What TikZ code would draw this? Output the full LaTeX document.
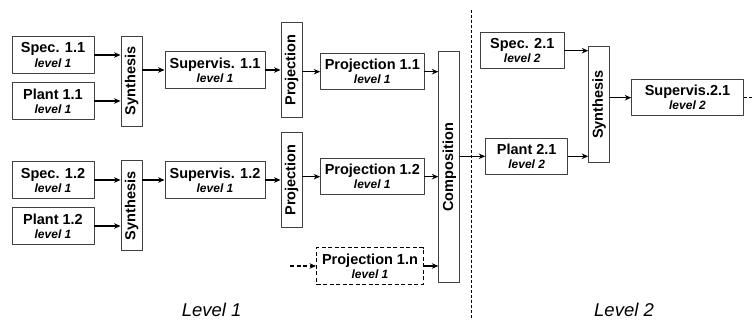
\documentclass[tikz,border=0pt]{standalone}
\usepackage{fontspec}
\setmainfont{Liberation Sans}
\usepackage{graphicx}
\usetikzlibrary{arrows.meta}
\tikzset{
  blk/.style={draw=black!75,line width=0.9pt,fill=white,align=center,inner sep=1pt,
    minimum height=36.5pt,font=\bfseries\fontsize{14.5}{14}\selectfont},
  vblk/.style={blk,minimum width=21pt},
  flow/.style={->,line width=1.3pt},
  lvltext/.style={font=\itshape\fontsize{18.5}{18}\selectfont}
}
\newcommand{\lvl}[1]{\\{\fontsize{12}{14}\selectfont\itshape level #1}}
\begin{document}
\begin{tikzpicture}[>={Stealth[length=6.5pt,width=5.5pt]},x=1pt,y=-1pt,line cap=round,line join=round]
\useasboundingbox (0,0) rectangle (755,320);
% boxes
\foreach \name/\x/\y/\w/\txt in {spec11/53/55/82/{Spec. 1.1\lvl{1}},plant11/53/101/82/{Plant 1.1\lvl{1}},
  spec12/53/180/82/{Spec. 1.2\lvl{1}},plant12/53/226/82/{Plant 1.2\lvl{1}},
  sup11/215/70/100/{Supervis. 1.1\lvl{1}},sup12/215/180/100/{Supervis. 1.2\lvl{1}},
  proj11/372.3/71.7/103.3/{Projection 1.1\lvl{1}},proj12/372.3/176.7/103.3/{Projection 1.2\lvl{1}},
  spec21/522.3/50.7/83.3/{Spec. 2.1\lvl{2}},plant21/526.7/156.3/82/{Plant 2.1\lvl{2}},
  sup21/687.5/97.7/111.6/{Supervis.2.1\lvl{2}}}
\node[blk,minimum width=\w pt] (\name) at (\x,\y) {\txt};
\node[blk,draw=black,line width=1.3pt,line cap=butt,dash pattern=on 4pt off 2.5pt,minimum width=106.6pt] (proj1n) at (370,266) {Projection 1.n\lvl{1}};
% vertical operators
\foreach \name/\x/\y/\h/\txt in {syn11/131.5/81/90/Synthesis,syn12/131.5/205.8/90/Synthesis,
  prj11/291.5/70/94.6/Projection,prj12/291.5/180/94.6/Projection,
  comp/449.3/167.2/231/Composition,syn21/599.2/104.7/116/Synthesis}
\node[vblk,minimum height=\h pt] (\name) at (\x,\y) {\rotatebox{90}{\txt}};
\coordinate (proj1nin) at (290,266);
\coordinate (supout) at (755,97.7);
\coordinate (divtop) at (471.7,10);
\coordinate (divbot) at (471.7,320);
% connectors
\foreach \i in {1,2}{
  \draw[flow] (spec1\i.east) -- (spec1\i.east -| syn1\i.west);
  \draw[flow] (plant1\i.east) -- (plant1\i.east -| syn1\i.west);
  \draw[flow] (syn1\i.east |- sup1\i.west) -- (sup1\i.west);
  \draw[flow] (sup1\i.east) -- (sup1\i.east -| prj1\i.west);
  \draw[flow] (prj1\i.east |- proj1\i.west) -- (proj1\i.west);
  \draw[flow] (proj1\i.east) -- (proj1\i.east -| comp.west);
}
\draw[flow,line cap=butt,dash pattern=on 4pt off 2.5pt] (proj1nin) -- (proj1n.west);
\draw[flow] (proj1n.east) -- (proj1n.east -| comp.west);
\draw[flow] (comp.east |- plant21.west) -- (plant21.west);
\draw[flow] (spec21.east) -- (spec21.east -| syn21.west);
\draw[flow] (plant21.east) -- (plant21.east -| syn21.west);
\draw[flow] (syn21.east |- sup21.west) -- (sup21.west);
\draw[line width=1.3pt,line cap=butt,dash pattern=on 3pt off 2.5pt] (sup21.east) -- (supout);
\draw[line width=1pt,line cap=butt,dash pattern=on 3pt off 2pt] (divtop) -- (divbot);
% level labels
\node[lvltext] (lvl1) at (211.7,310) {Level 1};
\node[lvltext] (lvl2) at (624,310) {Level 2};
\end{tikzpicture}
\end{document}
